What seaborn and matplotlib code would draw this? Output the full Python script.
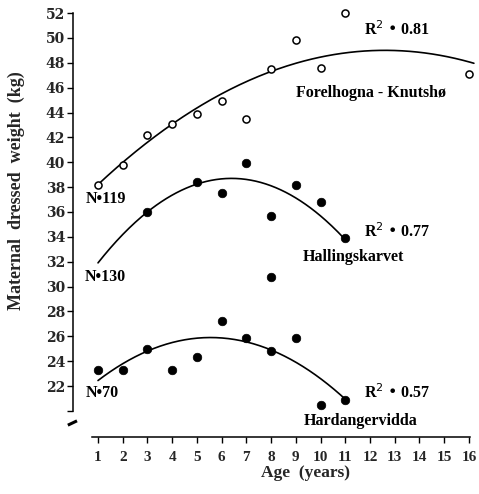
import numpy as np
import pandas as pd
import matplotlib
matplotlib.use("Agg")
import matplotlib.pyplot as plt
import seaborn as sns

# ---- data ----
fk_age = [1, 2, 3, 4, 5, 6, 7, 8, 9, 10, 11, 16]
fk_kg = [38.2, 39.8, 42.2, 43.1, 43.9, 44.9, 43.5, 47.5, 49.8, 47.6, 52.0, 47.1]

hk_age = [3, 5, 6, 7, 8, 8, 9, 10, 11]
hk_kg = [36.0, 38.4, 37.5, 39.9, 35.7, 30.8, 38.2, 36.8, 33.9]

hv_age = [1, 2, 3, 4, 5, 6, 7, 8, 9, 10, 11]
hv_kg = [23.3, 23.3, 25.0, 23.3, 24.3, 27.2, 25.85, 24.8, 25.85, 20.5, 20.9]

# quadratic fits (vertex form: kg = top + curv * (age - peak)^2)
fit_names = ["Forelhogna-Knutshø", "Hallingskarvet", "Hardangervidda"]
fit_peak_age = [12.6, 6.4, 5.55]
fit_peak_kg = [49.0, 38.7, 25.9]
fit_curv = [-0.0802, -0.233, -0.167]
fit_start = [1, 1, 1]
fit_end = [16.2, 11, 11]

r2_labels = ["R$^2$ • 0.81", "R$^2$ • 0.77", "R$^2$ • 0.57"]
n_labels = ["N•119", "N•130", "N•70"]
area_labels = ["Forelhogna - Knutshø", "Hallingskarvet", "Hardangervidda"]

x_ticks = list(range(1, 17))
y_ticks = list(range(20, 53, 2))
y_ticklabels = ["" if t == 20 else str(t) for t in y_ticks]

# ---- figure ----
sns.set_theme(style="ticks")
plt.rcParams["font.family"] = ["DejaVu Serif", "DejaVu Sans"]

fig = plt.figure(figsize=(4.79, 4.94), dpi=100)
ax = fig.add_axes([0.153, 0.1154, 0.8415, 0.8607])

fk = pd.DataFrame({"age": fk_age, "kg": fk_kg})
hk = pd.DataFrame({"age": hk_age, "kg": hk_kg})
hv = pd.DataFrame({"age": hv_age, "kg": hv_kg})

sns.scatterplot(data=fk, x="age", y="kg", ax=ax, marker="o", s=26,
                facecolor="white", edgecolor="black", linewidth=1.1,
                clip_on=False, zorder=3)
sns.scatterplot(data=hk, x="age", y="kg", ax=ax, marker="o", s=38,
                color="black", edgecolor="black", linewidth=0.5,
                clip_on=False, zorder=3)
sns.scatterplot(data=hv, x="age", y="kg", ax=ax, marker="o", s=38,
                color="black", edgecolor="black", linewidth=0.5,
                clip_on=False, zorder=3)

for name, pa, pk, c, s0, s1 in zip(fit_names, fit_peak_age, fit_peak_kg,
                                   fit_curv, fit_start, fit_end):
    xs = np.linspace(s0, s1, 200)
    ys = pk + c * (xs - pa) ** 2
    sns.lineplot(x=xs, y=ys, ax=ax, color="black", linewidth=1.2,
                 estimator=None, sort=False, zorder=2)

ax.set_xlim(0, 16.3)
ax.set_ylim(17.9, 52.1)
ax.set_xticks(x_ticks)
ax.set_yticks(y_ticks)
ax.set_yticklabels(y_ticklabels)

for lab in ax.get_yticklabels():
    lab.set_fontfamily("DejaVu Serif")
    lab.set_fontweight("bold")
    lab.set_fontsize(10)
for lab in ax.get_xticklabels():
    lab.set_fontfamily("Liberation Serif")
    lab.set_fontweight("bold")
    lab.set_fontsize(11)

ax.tick_params(axis="both", direction="out", length=4, width=1.0,
               color="black", pad=2)
ax.tick_params(axis="x", pad=6)
sns.despine(ax=ax)
ax.spines["left"].set_bounds(20, 52)
ax.spines["bottom"].set_bounds(0.75, 16.05)
for sp in ("left", "bottom"):
    ax.spines[sp].set_linewidth(1.1)
    ax.spines[sp].set_color("black")

# axis break mark on the y axis
ax.plot([-0.22, 0.15], [18.85, 19.2], color="black", linewidth=2.2,
        clip_on=False, solid_capstyle="butt")

ax.set_xlabel("Age  (years)", fontfamily="Liberation Serif",
              fontweight="bold", fontsize=12.5, labelpad=6)
ax.xaxis.set_label_coords(0.575, -0.066)
ax.set_ylabel("Maternal  dressed  weight  (kg)",
              fontfamily="Liberation Serif", fontweight="bold",
              fontsize=13)
ax.yaxis.set_label_coords(-0.12, 0.58)

tkw = dict(fontfamily="Liberation Serif", fontweight="bold", fontsize=11.5,
           color="black")
ax.text(13.09, 50.63, r2_labels[0], ha="center", va="center", **tkw)
ax.text(13.09, 34.38, r2_labels[1], ha="center", va="center", **tkw)
ax.text(13.09, 21.43, r2_labels[2], ha="center", va="center", **tkw)

ax.text(12.04, 45.56, area_labels[0], ha="center", va="center", **tkw)
ax.text(11.31, 32.37, area_labels[1], ha="center", va="center", **tkw)
ax.text(11.6, 19.18, area_labels[2], ha="center", va="center", **tkw)

ax.text(0.51, 37.04, n_labels[0], ha="left", va="center", **tkw)
ax.text(0.47, 30.76, n_labels[1], ha="left", va="center", **tkw)
ax.text(0.51, 21.43, n_labels[2], ha="left", va="center", **tkw)

fig.savefig("out.png", dpi=100)
